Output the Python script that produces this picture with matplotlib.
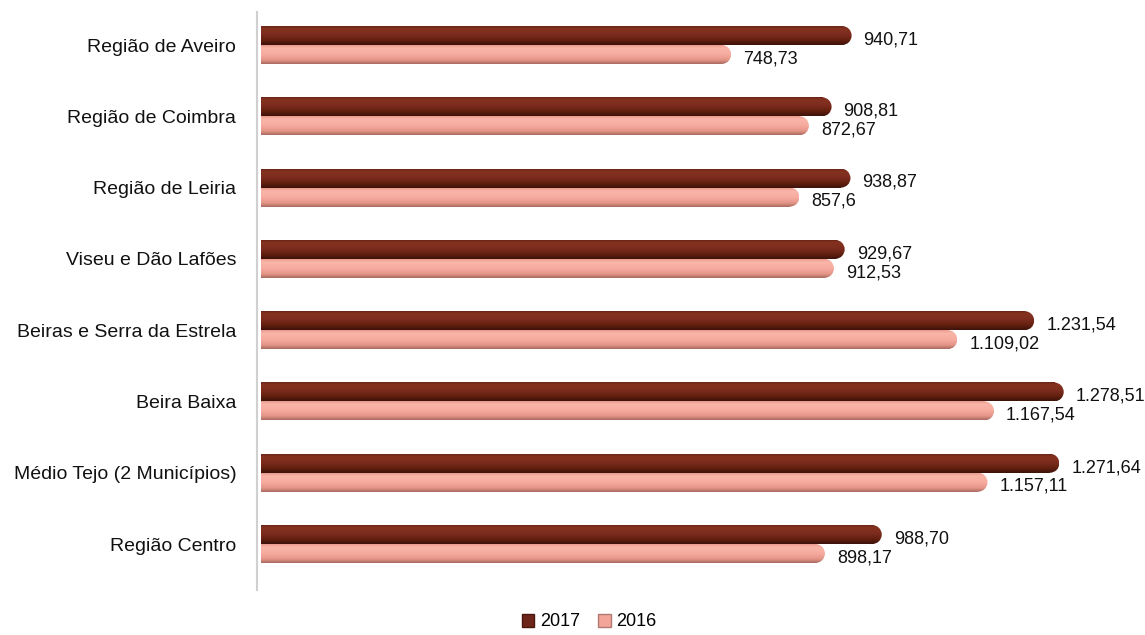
import matplotlib
matplotlib.use("Agg")
import matplotlib.pyplot as plt
import numpy as np
from matplotlib.patches import Ellipse, Patch
from matplotlib.colors import LinearSegmentedColormap

categories = ["Região de Aveiro", "Região de Coimbra", "Região de Leiria", "Viseu e Dão Lafões",
              "Beiras e Serra da Estrela", "Beira Baixa", "Médio Tejo (2 Municípios)", "Região Centro"]
v2017 = [940.71, 908.81, 938.87, 929.67, 1231.54, 1278.51, 1271.64, 988.70]
v2016 = [748.73, 872.67, 857.6, 912.53, 1109.02, 1167.54, 1157.11, 898.17]
lab2017 = ["940,71", "908,81", "938,87", "929,67", "1.231,54", "1.278,51", "1.271,64", "988,70"]
lab2016 = ["748,73", "872,67", "857,6", "912,53", "1.109,02", "1.167,54", "1.157,11", "898,17"]
series_names = ["2017", "2016"]

plt.rcParams['font.family'] = ['Liberation Sans', 'DejaVu Sans']

W, H = 1145, 635
fig = plt.figure(figsize=(W / 100, H / 100), dpi=100)
ax = fig.add_axes([257 / W, 1 - 590 / H, (W - 257) / W, (590 - 12) / H])

xmin, xmax = -6.4, 1408
ax.set_xlim(xmin, xmax)
ax.set_ylim(7.645, -0.463)

h = 0.266
pxu = (W - 257) / (xmax - xmin)  # px per data unit
r = (h * 71.3 / 2) / pxu  # cap radius in data units

# vertical gradients (top -> bottom)
cmaps = [
    LinearSegmentedColormap.from_list("c17", [(0, "#6a2418"), (0.12, "#85321f"), (0.45, "#7c2b1e"),
                                              (0.75, "#63200f"), (1, "#3c120a")]),
    LinearSegmentedColormap.from_list("c16", [(0, "#e9998c"), (0.15, "#f9b6a9"), (0.5, "#f6ab9e"),
                                              (0.8, "#e39486"), (1, "#a86a60")]),
]
edge = ["#4a160e", "#b07a72"]
grad = np.linspace(0, 1, 64).reshape(-1, 1)

for s, (vals, labs, off) in enumerate([(v2017, lab2017, -h / 2), (v2016, lab2016, h / 2)]):
    for i, (v, lab) in enumerate(zip(vals, labs)):
        y = i + off
        bars = ax.barh(y, v - r, height=h, left=0, color="none", edgecolor="none", zorder=2)
        rect = bars.patches[0]
        im = ax.imshow(grad, cmap=cmaps[s], aspect="auto", extent=[0, v - r, y + h / 2, y - h / 2],
                       interpolation="bilinear", zorder=2)
        im.set_clip_path(rect)
        cap = Ellipse((v - r, y), 2 * r, h, facecolor="none", edgecolor="none", zorder=3)
        ax.add_patch(cap)
        im2 = ax.imshow(grad, cmap=cmaps[s], aspect="auto",
                        extent=[v - 2 * r, v, y + h / 2, y - h / 2], interpolation="bilinear", zorder=3)
        im2.set_clip_path(cap)
        ax.text(v + 12 / pxu, y + 0.06, lab, ha="left", va="center", fontsize=13, color="#111111", zorder=4)

ax.set_xlim(xmin, xmax)
ax.set_ylim(7.645, -0.463)
ax.set_yticks(range(len(categories)))
ax.set_yticklabels(categories, fontsize=14, color="#111111")
ax.tick_params(axis="y", length=0, pad=15)
ax.set_xticks([])
for sp in ["top", "right", "bottom"]:
    ax.spines[sp].set_visible(False)
ax.spines["left"].set_color("#d0d0d0")
ax.spines["left"].set_linewidth(1.5)

handles = [Patch(facecolor="#6e2519", edgecolor=edge[0]),
           Patch(facecolor="#f2a598", edgecolor=edge[1])]
fig.legend(handles, series_names, loc="center", bbox_to_anchor=(589 / W, 1 - 622 / H), ncol=2,
           frameon=False, fontsize=13, handlelength=0.7, handleheight=0.7, handletextpad=0.3,
           columnspacing=1.0)

fig.savefig("out.png", dpi=100)
